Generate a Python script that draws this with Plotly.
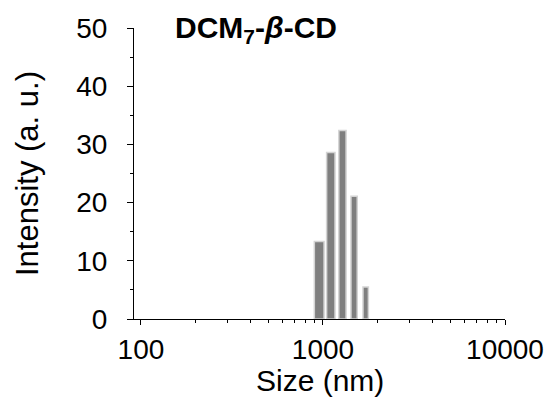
import plotly.graph_objects as go

sizes_nm = [955.4, 1106, 1281, 1484, 1718]
intensity = [13.3, 28.6, 32.4, 21.1, 5.5]
x_tick_vals = [100, 1000, 10000]
x_tick_text = ["100", "1000", "10000"]
y_tick_vals = [0, 10, 20, 30, 40, 50]

fig = go.Figure()
fig.add_trace(go.Bar(
    x=sizes_nm, y=intensity,
    marker=dict(color="#7f7f7f", line=dict(color="#d4d4d4", width=1.5)),
))

font = "Liberation Sans, Arial, sans-serif"
fig.update_layout(
    width=556, height=406,
    margin=dict(l=134, r=49, t=28, b=87),
    paper_bgcolor="white", plot_bgcolor="white",
    bargap=0.22,
    showlegend=False,
    font=dict(family=font, size=20, color="black"),
    annotations=[
        dict(
            text="<b>DCM<sub>7</sub>-<i>β</i>-CD</b>",
            x=0.105, y=0.995, xref="paper", yref="paper",
            xanchor="left", yanchor="middle", showarrow=False,
            font=dict(family=font, size=30, color="black"),
        ),
        dict(
            text="Size (nm)",
            x=0.5, y=-0.212, xref="paper", yref="paper",
            xanchor="center", yanchor="middle", showarrow=False,
            font=dict(family=font, size=30, color="black"),
        ),
    ],
)
fig.update_xaxes(
    type="log", range=[1.962, 4.0],
    tickvals=x_tick_vals, ticktext=x_tick_text,
    ticks="outside", ticklen=5, tickwidth=1.2, tickcolor="black",
    minor=dict(ticks="outside", ticklen=3, tickwidth=1, tickcolor="black", dtick="D1"),
    showline=True, linecolor="black", linewidth=1.2,
    showgrid=False, zeroline=False,
    tickfont=dict(size=28),
)
fig.update_yaxes(
    range=[0, 50],
    tickvals=y_tick_vals,
    ticks="outside", ticklen=6, tickwidth=1.2, tickcolor="black",
    minor=dict(ticks="outside", ticklen=3, tickwidth=1, tickcolor="black", dtick=5),
    showline=True, linecolor="black", linewidth=1.2,
    showgrid=False, zeroline=False,
    title=dict(text="Intensity (a. u.)", standoff=28, font=dict(size=31)),
    tickfont=dict(size=28),
    ticklabelstandoff=14,
)
fig.write_html("out.html")
